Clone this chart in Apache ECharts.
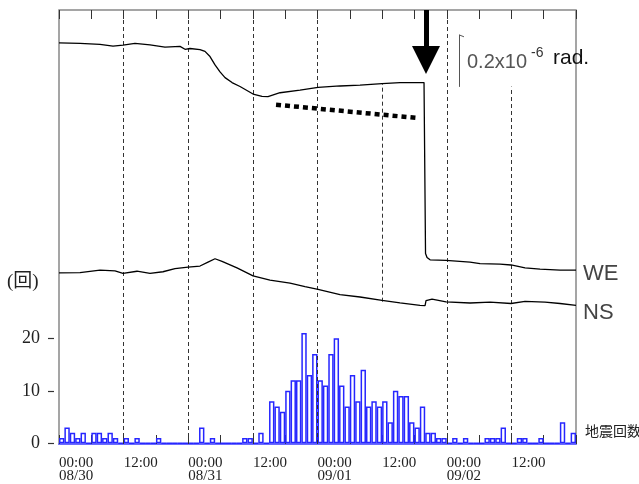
<!DOCTYPE html>
<html><head><meta charset="utf-8">
<script src="https://cdn.jsdelivr.net/npm/echarts@6/dist/echarts.min.js"></script>
<style>html,body{margin:0;padding:0;background:#fff}#c{width:639px;height:484px}</style>
</head><body><div id="c"></div>
<script>
// time axis tick labels (every 12 h from 00:00 08/30)
const hourLabels = ['00:00','12:00','00:00','12:00','00:00','12:00','00:00','12:00'];
const dateLabels = ['08/30','','08/31','','09/01','','09/02',''];

// tilt traces: hours since 00:00 08/30, tilt in micro-radians (arbitrary offset)
const weHours = [0,3.9,7.61,10.03,11.88,14.11,16.9,19.68,22.47,23.4,24.33,26.18,27.11,28.04,28.97,29.9,30.83,32.13,33.61,36.03,37.7,38.81,41.04,44.75,48.1,52.18,55.9,59.98,63.32,67.78,68.06,68.06,68.34,68.9,71.87,76.32,78.18,81.89,83.94,86.54,89.32,93.04,96];
const weTilt  = [1.542,1.540,1.536,1.529,1.533,1.540,1.534,1.525,1.528,1.517,1.520,1.516,1.509,1.489,1.457,1.430,1.408,1.389,1.374,1.345,1.336,1.335,1.350,1.360,1.371,1.376,1.379,1.385,1.389,1.389,1.387,0.732,0.717,0.708,0.706,0.699,0.693,0.691,0.688,0.677,0.672,0.668,0.668];
const nsHours = [0,3.9,7.61,10.4,11.88,14.48,16.9,19.31,21.54,23.96,26.18,27.67,28.97,30.27,33.05,36.03,39.18,42.9,45.68,48.1,52.18,55.9,59.98,63.32,67.04,67.97,68.15,69.27,71.87,76.32,80.04,83.94,86.54,90.25,93.04,96];
const nsTilt  = [0.658,0.659,0.668,0.665,0.656,0.664,0.656,0.662,0.674,0.680,0.684,0.699,0.712,0.702,0.677,0.646,0.630,0.618,0.605,0.594,0.574,0.565,0.552,0.542,0.533,0.532,0.551,0.557,0.546,0.542,0.545,0.540,0.548,0.545,0.540,0.533];

// hourly earthquake counts, 96 bins from 00:00 08/30
const quakeCounts = [1,3,2,1,2,0,2,2,1,2,1,0, 1,0,1,0,0,0,1,0,0,0,0,0,
  0,0,3,0,1,0,0,0,0,0,1,1, 0,2,0,8,7,6,10,12,12,21,13,17,
  12,11,17,20,11,7,13,8,14,7,8,7, 8,4,10,9,9,4,3,7,2,2,1,1,
  0,1,0,1,0,0,0,1,1,1,3,0, 0,1,1,0,0,1,0,0,0,4,0,2];
const binLabels = quakeCounts.map((_, i) => String(i));

const zip = (a, b) => a.map((x, i) => [x, b[i]]);

const dash = {type:[4,3], color:'#333', width:1};
const vline = (h, y0, y1) => [{coord:[h, y0], lineStyle:dash}, {coord:[h, y1]}];

const chart = echarts.init(document.getElementById('c'), null, {renderer:'canvas'});
chart.setOption({
  animation:false,
  backgroundColor:'#fff',
  grid:[
    {left:59, right:63, top:10, bottom:32, show:true, borderColor:'#888', borderWidth:1.5, backgroundColor:'transparent'},
    {left:59, right:63, top:312, bottom:40.7}
  ],
  xAxis:[
    {type:'value', gridIndex:0, min:0, max:96, interval:6, position:'bottom',
     axisLine:{show:false}, splitLine:{show:false},
     axisTick:{show:true, inside:true, length:9, lineStyle:{color:'#333', width:1}},
     axisLabel:{show:true, align:'left', margin:13, lineHeight:13, fontSize:15, fontFamily:'Liberation Serif', color:'#222',
       formatter:v => { if (v % 12 !== 0 || v >= 96) return ''; const i = v/12; return dateLabels[i] ? hourLabels[i] + '\n' + dateLabels[i] : hourLabels[i]; }}},
    {type:'value', gridIndex:0, min:0, max:96, interval:6, position:'top',
     axisLine:{show:false}, splitLine:{show:false}, axisLabel:{show:false},
     axisTick:{show:true, inside:true, length:9, lineStyle:{color:'#333', width:1}}},
    {type:'category', gridIndex:1, data:binLabels, boundaryGap:true,
     axisLine:{show:true, lineStyle:{color:'#6b6bff', width:2}}, axisTick:{show:false}, axisLabel:{show:false}}
  ],
  yAxis:[
    {type:'value', gridIndex:0, min:0, max:1.668, show:false},
    {type:'value', gridIndex:1, min:0, max:25, offset:5, splitLine:{show:false},
     axisLine:{show:false},
     axisTick:{show:true, length:6, customValues:[0,10,20], lineStyle:{color:'#333', width:1.2}},
     axisLabel:{customValues:[0,10,20], margin:14, fontSize:18, fontFamily:'Liberation Serif', color:'#222'}}
  ],
  graphic:[
    {type:'text', left:7, top:273, style:{text:'(回)', fontSize:19, fontFamily:'Liberation Serif, Noto Sans CJK JP', fill:'#222'}},
    {type:'text', left:585, top:424, style:{text:'地震回数', fontSize:14, fontFamily:'Noto Sans CJK JP', fill:'#222'}},
    {type:'text', left:467, top:52, style:{text:'0.2x10', fontSize:20, fontFamily:'Liberation Sans', fill:'#555'}},
    {type:'text', left:531, top:46, style:{text:'-6', fontSize:14, fontFamily:'Liberation Sans', fill:'#333'}},
    {type:'text', left:553, top:48, style:{text:'rad.', fontSize:21, fontFamily:'Liberation Sans', fill:'#111'}}
  ],
  series:[
    {name:'WE', type:'line', xAxisIndex:0, yAxisIndex:0, data:zip(weHours, weTilt), showSymbol:false,
     lineStyle:{color:'#000', width:1.3}, z:5,
     endLabel:{show:true, formatter:'{a}', distance:7, offset:[0,4], fontSize:22, fontFamily:'Liberation Sans', color:'#444'},
     markLine:{silent:true, symbol:'none', label:{show:false}, animation:false,
       data:[
         vline(12,0,1.668), vline(24,0,1.668), vline(36,0,1.668), vline(48,0,1.668),
         vline(60,0.547,1.385), vline(72,0,1.668), vline(84,0,1.3736),
         [{coord:[40.3,1.304], lineStyle:{type:[5,4], width:4.5, color:'#000', cap:'butt'}}, {coord:[66.5,1.253]}],
         [{coord:[68.15,1.668], symbol:'none', lineStyle:{type:'solid', width:5, color:'#000'}}, {coord:[68.15,1.476], symbol:'triangle', symbolSize:[28,28]}],
         [{coord:[74.28,1.3725], lineStyle:{type:'solid', width:1, color:'#555'}}, {coord:[74.28,1.5725]}],
         [{coord:[74.28,1.5725], lineStyle:{type:'solid', width:1, color:'#555'}}, {coord:[75.2,1.565]}]
       ]}},
    {name:'NS', type:'line', xAxisIndex:0, yAxisIndex:0, data:zip(nsHours, nsTilt), showSymbol:false,
     lineStyle:{color:'#000', width:1.3}, z:5,
     endLabel:{show:true, formatter:'{a}', distance:7, offset:[0,8], fontSize:22, fontFamily:'Liberation Sans', color:'#444'}},
    {name:'地震回数', type:'bar', xAxisIndex:2, yAxisIndex:1, data:quakeCounts, barWidth:'100%', z:4,
     itemStyle:{color:'rgba(255,255,255,0)', borderColor:'#2626ff', borderWidth:1.5}}
  ]
});
</script></body></html>
